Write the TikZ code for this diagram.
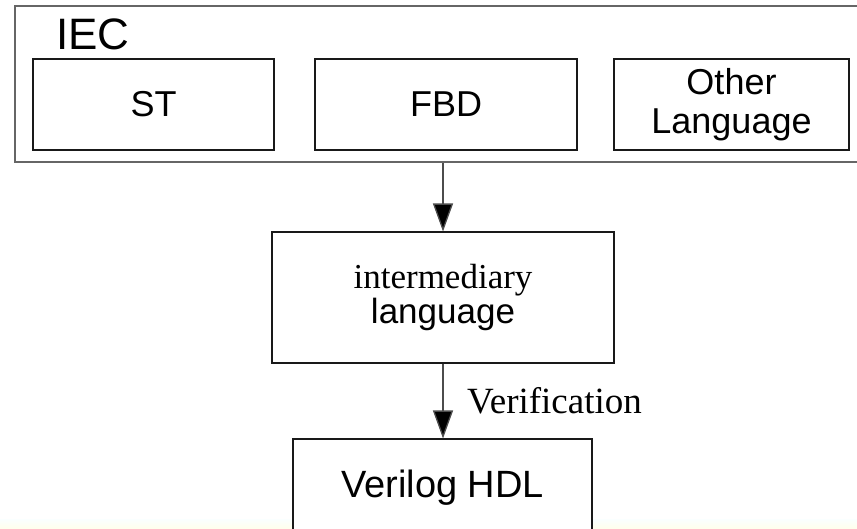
\documentclass[tikz,border=0pt]{standalone}
\usepackage{fontspec}
\setmainfont{Liberation Sans}
\newfontfamily\tms{Liberation Serif}
\usetikzlibrary{arrows.meta}
\begin{document}
\begin{tikzpicture}[x=1pt,y=-1pt,
  group/.style={draw=black!60,line width=1.6pt,inner sep=0pt},
  langbox/.style={draw=black!90,line width=1.1pt,inner sep=0pt,align=center,
    font=\fontsize{36}{39}\selectfont},
  flow/.style={draw=black!70,line width=1.3pt,
    -{Triangle[length=28pt,width=20pt,fill=black]}},
  note/.style={inner sep=0pt,font=\tms\fontsize{37}{37}\selectfont}]
\useasboundingbox (0,0) rectangle (857,528);
\clip (0,0) rectangle (857,528);
% pale strip along the lower edge
\shade[top color=cyan!2,bottom color=yellow!7] (0,519) rectangle (857,528);

% IEC group and its languages
\node[group,minimum width=855pt,minimum height=156pt] (iec) at (442.5,84) {};
\node[anchor=base west,inner sep=0pt,font=\fontsize{44}{44}\selectfont] (ieclabel) at (56,49) {IEC};
\node[langbox,minimum width=241pt,minimum height=91pt] (st) at (153.5,104.5) {ST};
\node[langbox,minimum width=262pt,minimum height=91pt] (fbd) at (446,104.5) {FBD};
\node[langbox,minimum width=235pt,minimum height=91pt] (other) at (731.5,104.5) {Other\\Language};

% intermediate representation
\node[langbox,minimum width=342pt,minimum height=131pt,
  font=\fontsize{35}{35}\selectfont] (inter) at (443,297.5)
  {{\tms intermediary}\\language};

% target language
\node[langbox,fill=white,minimum width=299pt,minimum height=97pt,
  font=\fontsize{38}{38}\selectfont] (verilog) at (442.5,487.5) {Verilog HDL};

% connectors
\draw[flow] (inter.north |- iec.south) -- (inter.north);
\draw[flow] (inter.south) -- (inter.south |- verilog.north);
\node[note,anchor=base west] (verif) at (467,413) {Verification};
\end{tikzpicture}
\end{document}
